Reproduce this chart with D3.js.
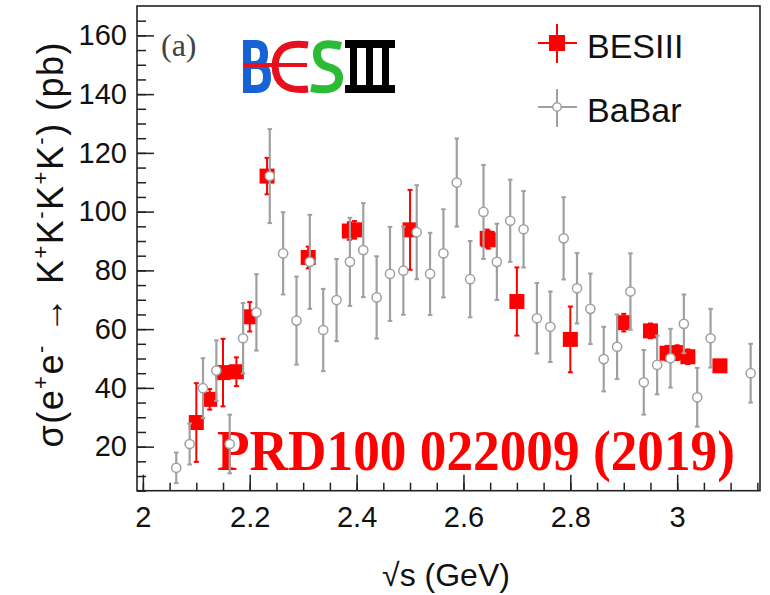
<!DOCTYPE html>
<html lang="en">
<head>
<meta charset="UTF-8">
<title>e+e- to K+K-K+K- cross section</title>
<script src="https://d3js.org/d3.v7.min.js"></script>
<style>
    body { margin: 0; background: #fff; }
</style>
</head>
<body>
<div id="figure" style="width: 770px; height: 595px"></div>
<script>
    // BESIII points (GeV, pb)
    let besE = [2.1, 2.125, 2.15, 2.175, 2.2, 2.2324, 2.3094, 2.3864, 2.396, 2.5,
        2.6444, 2.6464, 2.7, 2.8, 2.9, 2.95, 2.981, 3.0, 3.02, 3.08];
    let besSigma = [28.2, 36.1, 45.2, 45.5, 64.2, 112.1, 84.4, 93.4, 93.8, 93.8,
        90.9, 90.4, 69.4, 56.5, 62.2, 59.4, 51.8, 52.0, 50.6, 47.5];
    let besErr = [13.4, 3.5, 11.5, 4.9, 5.0, 6.2, 3.7, 3.0, 3.0, 13.6,
        3.0, 3.0, 11.6, 11.2, 3.0, 2.5, 2.5, 2.5, 2.5, 2.0];

    // BaBar points
    let babarE = [2.0625, 2.0875, 2.1125, 2.1375, 2.1625, 2.1875, 2.2125, 2.2375, 2.2625, 2.2875,
        2.3125, 2.3375, 2.3625, 2.3875, 2.4125, 2.4375, 2.4625, 2.4875, 2.5125, 2.5375,
        2.5625, 2.5875, 2.6125, 2.6375, 2.6625, 2.6875, 2.7125, 2.7375, 2.7625, 2.7875,
        2.8125, 2.8375, 2.8625, 2.8875, 2.9125, 2.9375, 2.9625, 2.9875, 3.0125, 3.0375,
        3.0625, 3.1375];
    let babarSigma = [12.8, 20.9, 39.9, 45.9, 20.9, 56.9, 65.7, 112.1, 85.8, 62.9,
        82.9, 59.7, 69.9, 82.9, 86.9, 70.8, 78.8, 79.9, 93.0, 78.8,
        85.8, 109.9, 77.0, 99.9, 82.9, 96.9, 94.0, 63.7, 60.8, 90.9,
        73.9, 66.9, 49.8, 54.0, 72.8, 41.9, 47.8, 50.1, 61.8, 36.8,
        56.9, 45.0];
    let babarErr = [5.2, 7.0, 10.2, 10.3, 10.0, 12.0, 13.0, 16.0, 14.0, 15.0,
        16.0, 14.0, 14.0, 15.0, 16.0, 14.0, 16.0, 15.0, 16.0, 14.0,
        15.0, 15.0, 13.0, 16.0, 13.0, 14.0, 13.0, 12.0, 12.0, 14.0,
        12.0, 12.0, 11.0, 11.0, 13.0, 11.0, 10.0, 10.0, 10.0, 10.0,
        10.0, 10.0];

    let xTicks = [2, 2.2, 2.4, 2.6, 2.8, 3];
    let xTickLabels = ['2', '2.2', '2.4', '2.6', '2.8', '3'];
    let yTicks = [20, 40, 60, 80, 100, 120, 140, 160];
    let yTickLabels = ['20', '40', '60', '80', '100', '120', '140', '160'];

    let w = 770, h = 595;
    let frameL = 137, frameR = 760, frameT = 6, frameB = 490.7;
    let besColor = '#ff0000';
    let babarColor = '#a0a0a0';
    let sans = '"Liberation Sans", Arial, sans-serif';
    let serif = '"Liberation Serif", "Times New Roman", serif';

    let svg = d3.select('#figure').append('svg')
        .attr('width', w)
        .attr('height', h)
        .style('font-family', sans);

    let x = d3.scaleLinear().domain([1.989, 3.155]).range([frameL, frameR]);
    let y = d3.scaleLinear().domain([5, 170]).range([frameB, frameT]);

    // axes, ticks pointing inward like ROOT
    let xMinor = d3.range(0, 24).map(i => 2 + i * 0.05);
    let yMinor = d3.range(1, 34).map(i => i * 5);

    let gx = svg.append('g').attr('transform', `translate(0,${frameB})`);
    gx.append('g').call(d3.axisBottom(x).tickValues(xMinor).tickSize(-8).tickFormat(''));
    gx.append('g').call(d3.axisBottom(x).tickValues(xTicks).tickSize(-16).tickPadding(16)
        .tickFormat((d, i) => xTickLabels[i]));
    let gy = svg.append('g').attr('transform', `translate(${frameL},0)`);
    gy.append('g').call(d3.axisLeft(y).tickValues(yMinor).tickSize(-9).tickFormat(''));
    gy.append('g').call(d3.axisLeft(y).tickValues(yTicks).tickSize(-17).tickPadding(10)
        .tickFormat((d, i) => yTickLabels[i]));

    svg.selectAll('.domain').remove();
    svg.selectAll('.tick line').attr('stroke', '#222').attr('stroke-width', 1.5);
    svg.selectAll('.tick text').attr('font-size', 29).attr('fill', '#111')
        .style('font-family', sans);

    svg.append('rect')
        .attr('x', frameL).attr('y', frameT)
        .attr('width', frameR - frameL).attr('height', frameB - frameT)
        .attr('fill', 'none').attr('stroke', '#222').attr('stroke-width', 1.6);

    // axis titles
    svg.append('text')
        .attr('x', 446).attr('y', 586)
        .attr('text-anchor', 'middle')
        .attr('font-size', 32).attr('fill', '#111')
        .text('\u221As (GeV)');

    let yt = svg.append('text')
        .attr('transform', 'translate(63,245) rotate(-90)')
        .attr('text-anchor', 'middle')
        .attr('font-size', 36).attr('fill', '#111')
        .attr('textLength', 405).attr('lengthAdjust', 'spacing');
    let parts = [['\u03c3(e', 0], ['+', 1], ['e', 0], ['-', 1], [' \u2192 K', 0], ['+', 1], ['K', 0], ['-', 1],
        ['K', 0], ['+', 1], ['K', 0], ['-', 1], [') (pb)', 0]];
    let shift = 0;
    parts.forEach(p => {
        let t = yt.append('tspan').text(p[0]);
        if (p[1]) {
            t.attr('font-size', 22).attr('dy', -15 - shift);
            shift = -15;
        } else {
            t.attr('dy', -shift);
            shift = 0;
        }
    });

    // label and stamp
    svg.append('text')
        .attr('x', 161).attr('y', 56)
        .style('font-family', serif)
        .attr('font-size', 32).attr('fill', '#444')
        .text('(a)');

    // BESIII logo
    let logo = svg.append('g').attr('transform', 'translate(243,40)');
    logo.append('path')
        .attr('d', 'M4,0 L4,53 M0,4 L13,4 Q21,4 21,14 Q21,25 12,25 L4,25 M4,25 L14,25 Q24,25 24,37 Q24,49 13,49 L0,49')
        .attr('fill', 'none').attr('stroke', '#1763d6').attr('stroke-width', 8);
    logo.append('path')
        .attr('d', 'M65,5 Q33,0 32,26 Q33,53 65,49')
        .attr('fill', 'none').attr('stroke', '#e8101c').attr('stroke-width', 7);
    logo.append('rect').attr('x', 0).attr('y', 23).attr('width', 64).attr('height', 4).attr('fill', '#e8101c');
    logo.append('path')
        .attr('d', 'M98,6 Q74,0 74,14 Q74,24 85,27 Q97,30 96,39 Q95,53 68,48')
        .attr('fill', 'none').attr('stroke', '#2cbb34').attr('stroke-width', 8);
    logo.append('rect').attr('x', 102).attr('y', 0).attr('width', 50).attr('height', 8).attr('fill', '#000');
    logo.append('rect').attr('x', 102).attr('y', 45).attr('width', 50).attr('height', 8).attr('fill', '#000');
    [107, 123, 139].forEach(v => {
        logo.append('rect').attr('x', v).attr('y', 0).attr('width', 7).attr('height', 53).attr('fill', '#000');
    });

    svg.append('text')
        .attr('x', 217).attr('y', 470)
        .style('font-family', serif)
        .attr('font-weight', 'bold')
        .attr('font-size', 57).attr('fill', '#ff0000')
        .attr('textLength', 518).attr('lengthAdjust', 'spacingAndGlyphs')
        .text('PRD100 022009 (2019)');

    // BESIII data
    let bes = besE.map((e, i) => ({e: e, s: besSigma[i], err: besErr[i]}));
    let gb = svg.append('g');
    bes.forEach(d => {
        gb.append('line')
            .attr('x1', x(d.e)).attr('x2', x(d.e))
            .attr('y1', y(d.s - d.err)).attr('y2', y(d.s + d.err))
            .attr('stroke', besColor).attr('stroke-width', 2);
        [d.s - d.err, d.s + d.err].forEach(v => {
            gb.append('line')
                .attr('x1', x(d.e) - 2.5).attr('x2', x(d.e) + 2.5)
                .attr('y1', y(v)).attr('y2', y(v))
                .attr('stroke', besColor).attr('stroke-width', 2);
        });
        gb.append('rect')
            .attr('x', x(d.e) - 7.5).attr('y', y(d.s) - 7.5)
            .attr('width', 15).attr('height', 15)
            .attr('fill', besColor);
    });

    // BaBar data
    let babar = babarE.map((e, i) => ({e: e, s: babarSigma[i], err: babarErr[i]}));
    let gbb = svg.append('g');
    babar.forEach(d => {
        gbb.append('line')
            .attr('x1', x(d.e)).attr('x2', x(d.e))
            .attr('y1', y(d.s - d.err)).attr('y2', y(d.s + d.err))
            .attr('stroke', babarColor).attr('stroke-width', 2.2);
        [d.s - d.err, d.s + d.err].forEach(v => {
            gbb.append('line')
                .attr('x1', x(d.e) - 2.3).attr('x2', x(d.e) + 2.3)
                .attr('y1', y(v)).attr('y2', y(v))
                .attr('stroke', babarColor).attr('stroke-width', 2);
        });
        gbb.append('circle')
            .attr('cx', x(d.e)).attr('cy', y(d.s)).attr('r', 4.6)
            .attr('fill', '#fff').attr('stroke', babarColor).attr('stroke-width', 1.5);
    });

    // legend
    let lg = svg.append('g');
    lg.append('line').attr('x1', 538).attr('x2', 577).attr('y1', 43).attr('y2', 43)
        .attr('stroke', besColor).attr('stroke-width', 2);
    lg.append('line').attr('x1', 557).attr('x2', 557).attr('y1', 24).attr('y2', 63)
        .attr('stroke', besColor).attr('stroke-width', 2);
    lg.append('rect').attr('x', 549).attr('y', 35).attr('width', 16).attr('height', 16).attr('fill', besColor);
    lg.append('text').attr('x', 587).attr('y', 58).attr('font-size', 34).attr('fill', '#111').text('BESIII');

    lg.append('line').attr('x1', 538).attr('x2', 577).attr('y1', 107).attr('y2', 107)
        .attr('stroke', babarColor).attr('stroke-width', 2);
    lg.append('line').attr('x1', 557).attr('x2', 557).attr('y1', 89).attr('y2', 127)
        .attr('stroke', babarColor).attr('stroke-width', 2);
    lg.append('circle').attr('cx', 557).attr('cy', 107).attr('r', 4.2)
        .attr('fill', '#fff').attr('stroke', babarColor).attr('stroke-width', 1.5);
    lg.append('text').attr('x', 587).attr('y', 122).attr('font-size', 34).attr('fill', '#111').text('BaBar');
</script>
</body>
</html>
